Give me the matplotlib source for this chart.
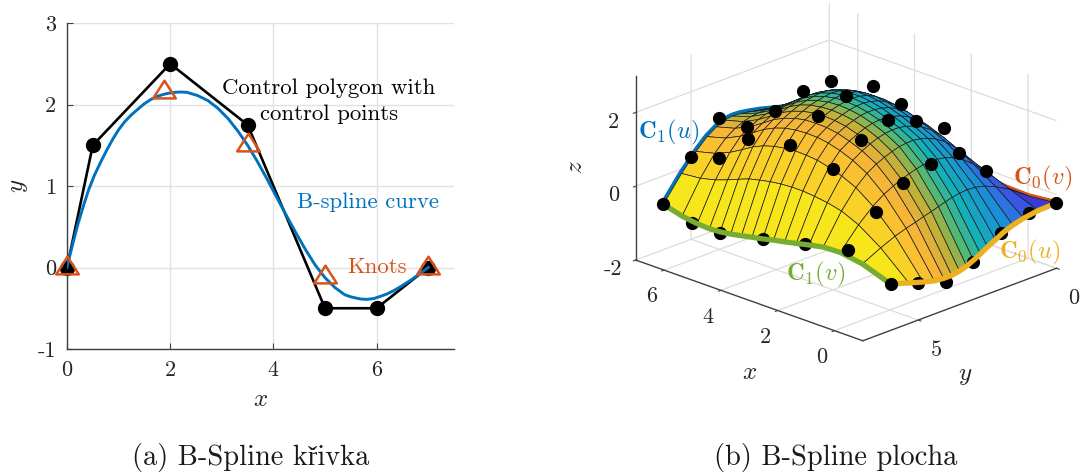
import numpy as np
import matplotlib
matplotlib.use('Agg')
import matplotlib.pyplot as plt
from matplotlib.colors import LinearSegmentedColormap, Normalize
from matplotlib.path import Path

plt.rcParams['font.family'] = ['cmr10', 'Liberation Serif']
plt.rcParams['mathtext.fontset'] = 'cm'
plt.rcParams['axes.unicode_minus'] = False
plt.rcParams['axes.formatter.use_mathtext'] = True

BLUE = '#0072bd'
RED = '#d95319'
YELLOW = '#edb120'
GREEN = '#77ac30'
AXC = '#404040'

# left panel data
poly_x = [0, 0.5, 2, 3.5, 5, 6, 7]
poly_y = [0, 1.5, 2.5, 1.75, -0.5, -0.5, 0]
curve_x = [0, 0.05, 0.1, 0.16, 0.22, 0.32, 0.416, 0.53, 0.65, 0.77, 0.89, 1.0, 1.12, 1.25, 1.389, 1.5, 1.62, 1.75, 1.875, 2.0, 2.1, 2.2, 2.322,
           2.53, 2.734, 2.93, 3.123, 3.31, 3.5, 3.69, 3.875, 4.06, 4.25, 4.44, 4.625, 4.81, 5, 5.19, 5.382, 5.49, 5.6, 5.7, 5.81, 5.94,
           6.07, 6.2, 6.336, 6.49, 6.65, 6.82, 7]
curve_y = [0, 0.135, 0.26, 0.41, 0.55, 0.76, 0.947, 1.13, 1.29, 1.44, 1.578, 1.69, 1.79, 1.875, 1.951, 2.01, 2.06, 2.1, 2.125, 2.142, 2.15, 2.153, 2.15,
           2.11, 2.047, 1.95, 1.826, 1.675, 1.5, 1.30, 1.088, 0.865, 0.641, 0.42, 0.217, 0.03, -0.125, -0.245, -0.334, -0.358, -0.375, -0.387, -0.391, -0.382,
           -0.355, -0.325, -0.283, -0.225, -0.16, -0.085, 0]
knot_x = [0, 1.875, 3.5, 5, 7]
knot_y = [0, 2.15, 1.5, -0.12, 0]
left_xticks = [0, 2, 4, 6]
left_yticks = [-1, 0, 1, 2, 3]
left_yticklabels = ['-1', '0', '1', '2', '3']

# right panel data
surf_x = [-1.00, -0.01, 0.77, 1.37, 1.87, 2.32, 2.73, 3.12, 3.50, 3.88, 4.25, 4.63, 5.00, 5.38, 5.81, 6.34, 7.00]
surf_y = [0.00, 0.66, 1.18, 1.58, 1.92, 2.21, 2.49, 2.75, 3.00, 3.25, 3.51, 3.79, 4.08, 4.42, 4.82, 5.34, 6.00]
surf_z = [
    [-0.23, -0.31, -0.29, -0.23, -0.16, -0.10, -0.06, -0.04, -0.03, -0.04, -0.06, -0.08, -0.11, -0.14, -0.18, -0.21, -0.25],
    [-0.25, 0.05, 0.29, 0.48, 0.63, 0.73, 0.81, 0.85, 0.87, 0.86, 0.83, 0.78, 0.69, 0.58, 0.46, 0.33, 0.20],
    [-0.31, 0.27, 0.67, 0.94, 1.12, 1.26, 1.36, 1.42, 1.45, 1.44, 1.40, 1.33, 1.21, 1.05, 0.87, 0.67, 0.47],
    [-0.39, 0.40, 0.91, 1.22, 1.41, 1.56, 1.67, 1.74, 1.78, 1.78, 1.74, 1.65, 1.51, 1.33, 1.11, 0.86, 0.61],
    [-0.49, 0.46, 1.05, 1.39, 1.58, 1.73, 1.84, 1.92, 1.96, 1.96, 1.92, 1.82, 1.68, 1.48, 1.24, 0.97, 0.68],
    [-0.61, 0.48, 1.13, 1.49, 1.69, 1.84, 1.95, 2.03, 2.07, 2.07, 2.02, 1.93, 1.78, 1.57, 1.32, 1.04, 0.74],
    [-0.72, 0.46, 1.17, 1.56, 1.76, 1.91, 2.02, 2.09, 2.13, 2.12, 2.07, 1.97, 1.82, 1.61, 1.36, 1.08, 0.80],
    [-0.84, 0.42, 1.18, 1.59, 1.80, 1.95, 2.05, 2.12, 2.15, 2.14, 2.08, 1.98, 1.83, 1.62, 1.37, 1.11, 0.84],
    [-0.94, 0.37, 1.16, 1.58, 1.80, 1.95, 2.05, 2.11, 2.13, 2.12, 2.06, 1.96, 1.81, 1.60, 1.36, 1.12, 0.88],
    [-1.03, 0.31, 1.12, 1.56, 1.78, 1.93, 2.03, 2.08, 2.10, 2.08, 2.02, 1.92, 1.77, 1.57, 1.34, 1.11, 0.91],
    [-1.09, 0.25, 1.06, 1.50, 1.73, 1.88, 1.97, 2.02, 2.04, 2.02, 1.97, 1.87, 1.72, 1.52, 1.30, 1.09, 0.92],
    [-1.13, 0.19, 0.99, 1.42, 1.65, 1.79, 1.89, 1.94, 1.96, 1.94, 1.88, 1.78, 1.64, 1.44, 1.23, 1.03, 0.89],
    [-1.13, 0.12, 0.89, 1.32, 1.54, 1.68, 1.78, 1.83, 1.84, 1.83, 1.77, 1.67, 1.53, 1.33, 1.12, 0.93, 0.79],
    [-1.10, 0.05, 0.76, 1.16, 1.38, 1.52, 1.61, 1.66, 1.67, 1.65, 1.60, 1.50, 1.36, 1.17, 0.96, 0.76, 0.62],
    [-1.02, -0.05, 0.55, 0.89, 1.07, 1.18, 1.26, 1.29, 1.30, 1.27, 1.22, 1.13, 1.00, 0.82, 0.63, 0.46, 0.33],
    [-0.90, -0.22, 0.19, 0.40, 0.49, 0.54, 0.57, 0.57, 0.55, 0.51, 0.45, 0.38, 0.27, 0.15, 0.03, -0.07, -0.12],
    [-0.74, -0.47, -0.37, -0.39, -0.47, -0.55, -0.62, -0.68, -0.75, -0.81, -0.87, -0.93, -0.97, -0.99, -0.97, -0.91, -0.77],
]

# control points that are not hidden by the surface
top_x = [0.5, 0.5, 0.5, 0.5, 0.5, 2, 2, 2, 2, 2, 3.5, 3.5, 3.5, 3.5, 3.5, 5, 5, 5, 5, 6, 6, 7, 7]
top_y = [5, 4, 3, 2, 1, 5, 4, 3, 2, 1, 5, 4, 3, 2, 1, 5, 4, 3, 2, 5, 4, 5, 4]
top_z = [0.51, 1.02, 1.26, 1.27, 0.51, 1.27, 1.77, 2.03, 1.72, 1.26, 1.5, 2.01, 2.27, 2.26, 1.51,
         1.26, 1.75, 2.01, 2.0, 0.49, 1.03, 0.24, 1.0]
edge_x = [2, 3.5, 5, 6, -1, -1, -1, -1, -1]
edge_y = [6, 6, 6, 6, 5, 4, 3, 2, 1]
edge_z = [-0.49, -0.75, -1.01, -1.01, -0.99, -1.24, -0.98, -0.47, -0.23]
corner_x = [-1, 0.5, 7, -1]
corner_y = [6, 6, 6, 0]
corner_z = [-0.74, -0.23, -0.77, -0.235]

# colours go with y
cmap_y = [0, 0.8, 1.6, 2.5, 3.0, 3.4, 4.0, 4.6, 5.2, 6]
cmap_c = ['#3c38d4', '#3a5ce8', '#1b8fd8', '#12b0b8', '#50b878', '#b8b038', '#f6b23a', '#fac62e', '#f6e41c', '#f5f215']

# triangle with its point of reference below the middle
tri = Path([(-11.5, -6), (11.5, -6), (0, 12), (-11.5, -6)], closed=True)

fig = plt.figure(figsize=(10.9, 4.74), dpi=100)

# (a) curve
ax = fig.add_axes([67/1090, 125/474, 387/1090, 326/474])
ax.plot(poly_x, poly_y, '-o', color='k', lw=1.9, ms=10, zorder=3, clip_on=False)
ax.plot(curve_x, curve_y, color=BLUE, lw=2.1, zorder=4)
ax.plot(knot_x, knot_y, ls='none', marker=tri, color=RED, mfc='none', mew=1.8, ms=17, zorder=5, clip_on=False)
ax.set_xlim(0, 7.5)
ax.set_ylim(-1, 3)
ax.set_xticks(left_xticks)
ax.set_yticks(left_yticks)
ax.set_yticklabels(left_yticklabels)
ax.grid(True, color='#e2e2e2', lw=1)
ax.set_axisbelow(True)
ax.spines['top'].set_visible(False)
ax.spines['right'].set_visible(False)
ax.spines['left'].set_color(AXC)
ax.spines['bottom'].set_color(AXC)
ax.spines['left'].set_linewidth(1)
ax.spines['bottom'].set_linewidth(1)
ax.tick_params(direction='in', length=4, color=AXC, labelsize=16, labelcolor='#262626', pad=8)
ax.set_xlabel('$x$', fontsize=18, labelpad=7, color='#262626')
ax.set_ylabel('$y$', fontsize=18, labelpad=5, color='#262626')
ax.text(5.07, 2.04, 'Control polygon with\ncontrol points', color='k', fontsize=16.4, ha='center', va='center', linespacing=1.45)
ax.text(5.84, 0.8, 'B-spline curve', color=BLUE, fontsize=16.4, ha='center', va='center')
ax.text(6.0, 0.0, 'Knots', color=RED, fontsize=16.4, ha='center', va='center')

# (b) surface
ax3 = fig.add_axes([614/1090, 70/474, 452/1090, 452/474], projection='3d')
ax3.patch.set_alpha(0)
ax3.computed_zorder = False
ax3.set_proj_type('ortho')
ax3.view_init(elev=21.4, azim=134.25)
ax3.set_xlim(-1, 7, view_margin=0)
ax3.set_ylim(0, 7, view_margin=0)
ax3.set_zlim(-2, 3, view_margin=0)
ax3.set_box_aspect((8, 7, 5), zoom=1.0)

X, Y = np.meshgrid(surf_x, surf_y)
Z = np.array(surf_z)
norm = Normalize(0, 6)
cm = LinearSegmentedColormap.from_list('ycol', [(norm(v), c) for v, c in zip(cmap_y, cmap_c)])

ax3.plot(np.full(17, 7.0), surf_y, Z[:, -1], color=BLUE, lw=5, zorder=1, solid_capstyle='round')
ax3.plot(surf_x, np.zeros(17), Z[0], color=RED, lw=4, zorder=1)
ax3.plot_surface(X, Y, Z, facecolors=cm(norm(Y)), edgecolor='#1a1a1a', linewidth=0.5, rstride=1, cstride=1,
                 shade=False, antialiased=True, zorder=2)
ax3.plot(edge_x, edge_y, edge_z, 'o', color='k', ms=8.5, zorder=2.5)
ax3.plot(surf_x, np.full(17, 6.0), Z[-1], color=GREEN, lw=3.8, zorder=3)
ax3.plot(np.full(17, -1.0), surf_y, Z[:, 0], color=YELLOW, lw=3.8, zorder=3)
ax3.plot(top_x, top_y, top_z, 'o', color='k', ms=8.5, zorder=4)
ax3.plot(corner_x, corner_y, corner_z, 'o', color='k', ms=8.5, zorder=4)

ax3.set_xticks([0, 2, 4, 6])
ax3.set_yticks([0, 5])
ax3.set_zticks([-2, 0, 2])
ax3.set_zticklabels(['-2', '0', '2'])
ax3.zaxis.set_ticks_position('upper')
for a in (ax3.xaxis, ax3.yaxis, ax3.zaxis):
    a.set_pane_color((1, 1, 1, 0))
    a.pane.set_edgecolor((1, 1, 1, 0))
    a.line.set_color(AXC)
    a.line.set_linewidth(1)
    a._axinfo['grid']['color'] = '#dcdcdc'
    a._axinfo['grid']['linewidth'] = 0.9
    a._axinfo['tick']['inward_factor'] = 0.15
    a._axinfo['tick']['outward_factor'] = 0.0
ax3.tick_params(labelsize=16, labelcolor='#262626', color=AXC)
ax3.tick_params(axis='x', pad=3)
ax3.tick_params(axis='y', pad=5)
ax3.tick_params(axis='z', pad=1)

fig.text(750/1090, 1-373/474, '$x$', color='#262626', fontsize=18, ha='center', va='center')
fig.text(965/1090, 1-376/474, '$y$', color='#262626', fontsize=18, ha='center', va='center')
fig.text(576/1090, 1-167/474, '$z$', color='#262626', fontsize=18, rotation=90, ha='center', va='center')

fig.text(669/1090, 1-132/474, r'$\mathbf{C}_1(u)$', color=BLUE, fontsize=17.6, ha='center', va='center')
fig.text(1043/1090, 1-178/474, r'$\mathbf{C}_0(v)$', color=RED, fontsize=17.6, ha='center', va='center')
fig.text(1030/1090, 1-252/474, r'$\mathbf{C}_0(u)$', color=YELLOW, fontsize=17.6, ha='center', va='center')
fig.text(816/1090, 1-274/474, r'$\mathbf{C}_1(v)$', color=GREEN, fontsize=17.6, ha='center', va='center')

fig.text(251/1090, 1-458/474, '(a) B-Spline křivka', fontsize=20.5, color='#1a1a1a', ha='center', va='center')
fig.text(836/1090, 1-458/474, '(b) B-Spline plocha', fontsize=20.5, color='#1a1a1a', ha='center', va='center')

fig.savefig('out.png', dpi=100)
